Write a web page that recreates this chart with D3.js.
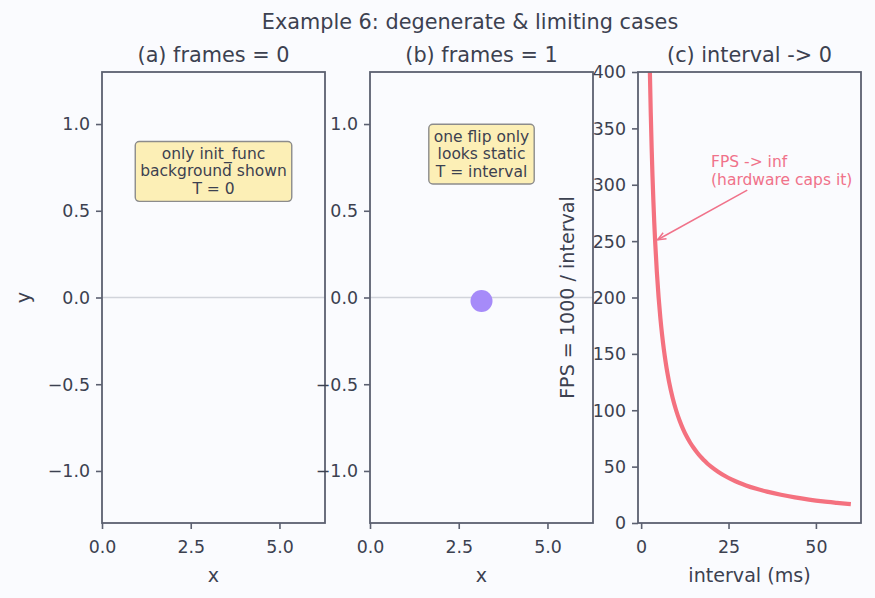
<!DOCTYPE html>
<html>
<head>
<meta charset="utf-8">
<script src="https://cdn.jsdelivr.net/npm/d3@7"></script>
<style>
  html, body { margin: 0; padding: 0; background: #fafbfe; }
  svg { display: block; font-family: "DejaVu Sans", sans-serif; }
</style>
</head>
<body>
<svg id="chart" width="875" height="598"></svg>
<script>
// ---------- data ----------
const suptitle = "Example 6: degenerate & limiting cases";
const panelTitles = ["(a) frames = 0", "(b) frames = 1", "(c) interval -> 0"];
const xTicksAB = [0, 2.5, 5.0];
const yTicksAB = [-1.0, -0.5, 0.0, 0.5, 1.0];
const xDomainAB = [0, 6.283];
const yDomainAB = [-1.3, 1.3];
const zeroLineY = [0];
const boxA = ["only init_func", "background shown", "T = 0"];
const boxAPos = [3.1416, 0.73];
const boxB = ["one flip only", "looks static", "T = interval"];
const boxBPos = [3.1416, 0.83];
const singleFrameX = [3.1416];
const singleFrameY = [-0.02];
// panel c
const intervals = [2, 2.25, 2.5, 2.75, 3, 3.25, 3.5, 3.75, 4, 4.5, 5, 5.5, 6, 6.5, 7, 7.5, 8, 9, 10, 11, 12, 13, 14, 15, 16, 17, 18, 19, 20, 22, 24, 26, 28, 30, 33, 36, 40, 44, 48, 52, 56, 60];
const fpsValues = [500, 444.4, 400, 363.6, 333.3, 307.7, 285.7, 266.7, 250, 222.2, 200, 181.8, 166.7, 153.8, 142.9, 133.3, 125, 111.1, 100, 90.9, 83.3, 76.9, 71.4, 66.7, 62.5, 58.8, 55.6, 52.6, 50, 45.5, 41.7, 38.5, 35.7, 33.3, 30.3, 27.8, 25, 22.7, 20.8, 19.2, 17.9, 16.7];
const xTicksC = [0, 25, 50];
const yTicksC = [0, 50, 100, 150, 200, 250, 300, 350, 400];
const xDomainC = [-0.9, 62.9];
const yDomainC = [0, 400];
const annotText = ["FPS -> inf", "(hardware caps it)"];
const annotTextPos = [20, 300];
const annotTarget = [4, 250];

// ---------- style ----------
const TXT = "#3c4150";
const SPINE = "#5b6070";
const LINE = "#f4717f";
const ANNOT = "#f0728a";
const DOT = "#a68bf9";
const BOXFILL = "#fcefb6";
const BOXEDGE = "#8c8c8c";
const ZERO = "#d1d4db";

const svg = d3.select("#chart");
const TOP = 72, BOTTOM = 523;
const panels = [
  {x0: 102, x1: 325},
  {x0: 370, x1: 593},
  {x0: 638, x1: 861}
];
const fmt1 = d => d3.format(".1f")(d).replace("-", "\u2212");

svg.append("text").attr("x", 470).attr("y", 29).attr("text-anchor", "middle")
  .attr("fill", TXT).attr("font-size", 20.8).text(suptitle);

const defs = svg.append("defs");

function drawAxes(p, xs, ys, xTicks, yTicks, xfmt, yfmt, title, xlabel, ylabel, ylabelX) {
  const g = svg.append("g");
  g.append("text").attr("x", (p.x0 + p.x1) / 2).attr("y", TOP - 10.5)
    .attr("text-anchor", "middle").attr("fill", TXT).attr("font-size", 20.8).text(title);
  const xa = g.append("g").attr("transform", `translate(0,${BOTTOM})`)
    .call(d3.axisBottom(xs).tickValues(xTicks).tickFormat(xfmt).tickSize(6).tickPadding(11));
  const ya = g.append("g").attr("transform", `translate(${p.x0},0)`)
    .call(d3.axisLeft(ys).tickValues(yTicks).tickFormat(yfmt).tickSize(6).tickPadding(6));
  [xa, ya].forEach(a => {
    a.select(".domain").remove();
    a.selectAll(".tick line").attr("stroke", SPINE).attr("stroke-width", 1.6);
    a.selectAll(".tick text").attr("fill", TXT).attr("font-size", 17.4)
      .attr("font-family", "DejaVu Sans, sans-serif");
  });
  ya.selectAll(".tick text").attr("dy", "0.34em");
  xa.selectAll(".tick text").attr("dy", "0.76em");
  if (xlabel) g.append("text").attr("x", (p.x0 + p.x1) / 2).attr("y", 582)
    .attr("text-anchor", "middle").attr("fill", TXT).attr("font-size", 19.1).text(xlabel);
  if (ylabel) g.append("text")
    .attr("transform", `translate(${ylabelX},${(TOP + BOTTOM) / 2}) rotate(-90)`)
    .attr("text-anchor", "middle").attr("fill", TXT).attr("font-size", 19.1).text(ylabel);
  return g;
}

function spines(p) {
  svg.append("rect").attr("x", p.x0).attr("y", TOP)
    .attr("width", p.x1 - p.x0).attr("height", BOTTOM - TOP)
    .attr("fill", "none").attr("stroke", SPINE).attr("stroke-width", 1.8);
}

function textBox(xs, ys, pos, lines) {
  const cx = xs(pos[0]), cy = ys(pos[1]);
  const lh = 17.4, fs = 15.5;
  const g = svg.append("g");
  const rect = g.append("rect");
  const t = g.append("text").attr("text-anchor", "middle").attr("fill", TXT).attr("font-size", fs);
  lines.forEach((l, i) => {
    t.append("tspan").attr("x", cx)
      .attr("y", cy + (i - (lines.length - 1) / 2) * lh + fs * 0.36).text(l);
  });
  const bb = t.node().getBBox();
  const padX = 5, padY = 3.5;
  rect.attr("x", bb.x - padX).attr("y", bb.y - padY)
    .attr("width", bb.width + 2 * padX).attr("height", bb.height + 2 * padY)
    .attr("rx", 4).attr("fill", BOXFILL).attr("stroke", BOXEDGE).attr("stroke-width", 1.4);
}

// ---------- panel a ----------
{
  const p = panels[0];
  const xs = d3.scaleLinear().domain(xDomainAB).range([p.x0, p.x1]);
  const ys = d3.scaleLinear().domain(yDomainAB).range([BOTTOM, TOP]);
  svg.selectAll(null).data(zeroLineY).enter().append("line")
    .attr("x1", p.x0).attr("x2", p.x1).attr("y1", d => ys(d)).attr("y2", d => ys(d))
    .attr("stroke", ZERO).attr("stroke-width", 1.6);
  drawAxes(p, xs, ys, xTicksAB, yTicksAB, fmt1, fmt1, panelTitles[0], "x", "y", 30);
  textBox(xs, ys, boxAPos, boxA);
  spines(p);
}
// ---------- panel b ----------
{
  const p = panels[1];
  const xs = d3.scaleLinear().domain(xDomainAB).range([p.x0, p.x1]);
  const ys = d3.scaleLinear().domain(yDomainAB).range([BOTTOM, TOP]);
  svg.selectAll(null).data(zeroLineY).enter().append("line")
    .attr("x1", p.x0).attr("x2", p.x1).attr("y1", d => ys(d)).attr("y2", d => ys(d))
    .attr("stroke", ZERO).attr("stroke-width", 1.6);
  drawAxes(p, xs, ys, xTicksAB, yTicksAB, fmt1, fmt1, panelTitles[1], "x", null, 0);
  svg.selectAll(null).data(singleFrameX).enter().append("circle")
    .attr("cx", d => xs(d)).attr("cy", (d, i) => ys(singleFrameY[i])).attr("r", 11)
    .attr("fill", DOT);
  textBox(xs, ys, boxBPos, boxB);
  spines(p);
}
// ---------- panel c ----------
{
  const p = panels[2];
  const xs = d3.scaleLinear().domain(xDomainC).range([p.x0, p.x1]);
  const ys = d3.scaleLinear().domain(yDomainC).range([BOTTOM, TOP]);
  defs.append("clipPath").attr("id", "clipC").append("rect")
    .attr("x", p.x0).attr("y", TOP).attr("width", p.x1 - p.x0).attr("height", BOTTOM - TOP);
  drawAxes(p, xs, ys, xTicksC, yTicksC, d3.format("d"), d3.format("d"), panelTitles[2],
    "interval (ms)", "FPS = 1000 / interval", 574);
  const line = d3.line().x(d => xs(d[0])).y(d => ys(d[1])).curve(d3.curveMonotoneX);
  svg.append("path").datum(intervals.map((v, i) => [v, fpsValues[i]]))
    .attr("clip-path", "url(#clipC)")
    .attr("d", line).attr("fill", "none").attr("stroke", LINE).attr("stroke-width", 4.2)
    .attr("stroke-linejoin", "round");
  const tx = xs(annotTextPos[0]), ty = ys(annotTextPos[1]);
  const at = svg.append("text").attr("fill", ANNOT).attr("font-size", 15.5);
  annotText.forEach((l, i) => {
    at.append("tspan").attr("x", tx).attr("y", ty - (annotText.length - 1 - i) * 17.4).text(l);
  });
  const bb = at.node().getBBox();
  const cx = bb.x + bb.width / 2, cy = bb.y + bb.height / 2;
  const px = xs(annotTarget[0]), py = ys(annotTarget[1]);
  const dx = px - cx, dy = py - cy;
  const tX = dx !== 0 ? (bb.width / 2) / Math.abs(dx) : Infinity;
  const tY = dy !== 0 ? (bb.height / 2) / Math.abs(dy) : Infinity;
  const tt = Math.min(tX, tY);
  let sx = cx + dx * tt, sy = cy + dy * tt;
  const len = Math.hypot(px - sx, py - sy);
  const ux = (px - sx) / len, uy = (py - sy) / len;
  sx += ux * 2.8; sy += uy * 2.8;
  const ex = px - ux * 2.8, ey = py - uy * 2.8;
  svg.append("line").attr("x1", sx).attr("y1", sy).attr("x2", ex).attr("y2", ey)
    .attr("stroke", ANNOT).attr("stroke-width", 1.5);
  const hl = 9, ang = Math.atan2(uy, ux), spread = 0.4;
  const h1 = [ex - hl * Math.cos(ang - spread), ey - hl * Math.sin(ang - spread)];
  const h2 = [ex - hl * Math.cos(ang + spread), ey - hl * Math.sin(ang + spread)];
  svg.append("path").attr("d", `M${h1[0]},${h1[1]}L${ex},${ey}L${h2[0]},${h2[1]}`)
    .attr("fill", "none").attr("stroke", ANNOT).attr("stroke-width", 1.5);
  spines(p);
}
</script>
</body>
</html>
